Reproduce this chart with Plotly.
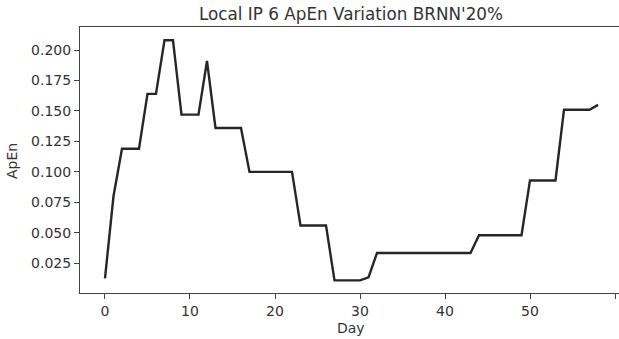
import plotly.graph_objects as go

days = list(range(0, 59))
apen = [
    0.0127, 0.080, 0.119, 0.119, 0.119, 0.164, 0.164, 0.208, 0.208, 0.147,
    0.147, 0.147, 0.191, 0.136, 0.136, 0.136, 0.136, 0.100, 0.100, 0.100,
    0.100, 0.100, 0.100, 0.056, 0.056, 0.056, 0.056, 0.011, 0.011, 0.011,
    0.011, 0.0135, 0.0335, 0.0335, 0.0335, 0.0335, 0.0335, 0.0335, 0.0335, 0.0335,
    0.0335, 0.0335, 0.0335, 0.0335, 0.048, 0.048, 0.048, 0.048, 0.048, 0.048,
    0.093, 0.093, 0.093, 0.093, 0.151, 0.151, 0.151, 0.151, 0.155,
]
title_text = "Local IP 6 ApEn Variation BRNN'20%"
x_label = "Day"
y_label = "ApEn"
x_ticks = [0, 10, 20, 30, 40, 50, 60]
y_ticks = [0.025, 0.050, 0.075, 0.100, 0.125, 0.150, 0.175, 0.200]

font_family = "DejaVu Sans, Liberation Sans, sans-serif"
text_color = "#333333"

fig = go.Figure()
fig.add_trace(go.Scatter(
    x=days, y=apen, mode="lines",
    line=dict(color="#262626", width=2.4),
    showlegend=False, hoverinfo="skip",
))

W, H = 619, 339
fig.update_layout(
    width=W, height=H,
    margin=dict(l=80, r=0, t=27, b=46, autoexpand=False),
    paper_bgcolor="white", plot_bgcolor="white",
    font=dict(family=font_family, color=text_color, size=14),
    title=dict(text=title_text, x=351 / W, xanchor="center",
               y=1 - 14 / H, yanchor="middle", automargin=False,
               font=dict(size=16.8, color=text_color)),
)
fig.update_xaxes(
    range=[-2.94, 60.47], automargin=False,
    tickmode="array", tickvals=x_ticks, ticktext=[str(t) for t in x_ticks],
    ticks="outside", ticklen=5, tickwidth=1, tickcolor="#444",
    showline=True, linecolor="#444", linewidth=1, mirror=True,
    showgrid=False, zeroline=False,
    tickfont=dict(size=14, color=text_color),
)
fig.update_yaxes(
    range=[0.00066, 0.21887], automargin=False,
    tickmode="array", tickvals=y_ticks, ticktext=[f"{t:.3f}" for t in y_ticks],
    ticks="outside", ticklen=5, tickwidth=1, tickcolor="#444",
    showline=True, linecolor="#444", linewidth=1,
    showgrid=False, zeroline=False,
    tickfont=dict(size=14, color=text_color),
)
fig.add_annotation(text=x_label, xref="paper", yref="paper",
                   x=(351 - 80) / (W - 80), y=-(328 - 293) / (H - 27 - 46),
                   xanchor="center", yanchor="middle", showarrow=False,
                   font=dict(size=14, color=text_color))
fig.add_annotation(text=y_label, xref="paper", yref="paper",
                   x=-(80 - 12) / (W - 80), y=(293 - 161) / (H - 27 - 46),
                   xanchor="center", yanchor="middle", textangle=-90,
                   showarrow=False, font=dict(size=14, color=text_color))

fig.write_html(
    "out.html",
    config={"displayModeBar": False, "staticPlot": True},
    post_script="document.body.style.margin='0';document.body.style.overflow='hidden';",
)
